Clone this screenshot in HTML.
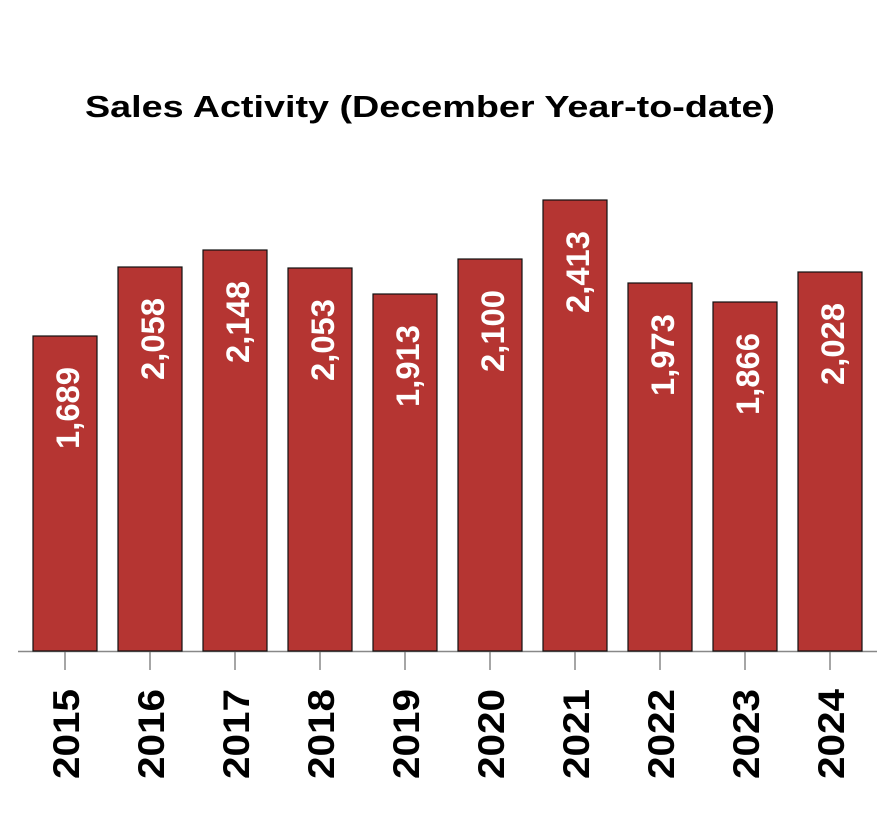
<!DOCTYPE html>
<html><head><style>body{margin:0;background:#fff}</style></head><body>
<svg width="886" height="828" xmlns="http://www.w3.org/2000/svg" font-family="Liberation Sans, sans-serif" font-weight="bold">
<text x="85" y="117" font-size="31" textLength="690" lengthAdjust="spacingAndGlyphs">Sales Activity (December Year-to-date)</text>
<line x1="18" y1="651.5" x2="877" y2="651.5" stroke="#888" stroke-width="1.5"/>
<g id="bars" fill="#b53532" stroke="#111" stroke-width="1.2"></g>
<g id="lbl"></g>
</svg>
<script>
var d=[[2015,1689,336],[2016,2058,267],[2017,2148,250],[2018,2053,268],[2019,1913,294],[2020,2100,259],[2021,2413,200],[2022,1973,283],[2023,1866,302],[2024,2028,272]];
var ns="http://www.w3.org/2000/svg",b=document.getElementById('bars'),l=document.getElementById('lbl');
d.forEach(function(r,i){var x=33+85*i,cx=x+32;
var e=document.createElementNS(ns,'rect');e.setAttribute('x',x);e.setAttribute('y',r[2]);e.setAttribute('width',64);e.setAttribute('height',651-r[2]);b.appendChild(e);
var t=document.createElementNS(ns,'line');t.setAttribute('x1',cx);t.setAttribute('x2',cx);t.setAttribute('y1',652);t.setAttribute('y2',670);t.setAttribute('stroke','#888');t.setAttribute('stroke-width','1.5');l.appendChild(t);
var v=document.createElementNS(ns,'text');v.setAttribute('transform','translate('+(cx+14)+','+(r[2]+31)+') rotate(-90)');v.setAttribute('text-anchor','end');v.setAttribute('fill','#fff');v.setAttribute('font-size','32');v.setAttribute('textLength','82');v.setAttribute('lengthAdjust','spacingAndGlyphs');v.textContent=r[1].toLocaleString('en-US');l.appendChild(v);
var y=document.createElementNS(ns,'text');y.setAttribute('transform','translate('+(cx+14)+',689) rotate(-90)');y.setAttribute('text-anchor','end');y.setAttribute('font-size','37');y.setAttribute('textLength','90');y.setAttribute('lengthAdjust','spacingAndGlyphs');y.textContent=r[0];l.appendChild(y);
});
</script>
</body></html>
